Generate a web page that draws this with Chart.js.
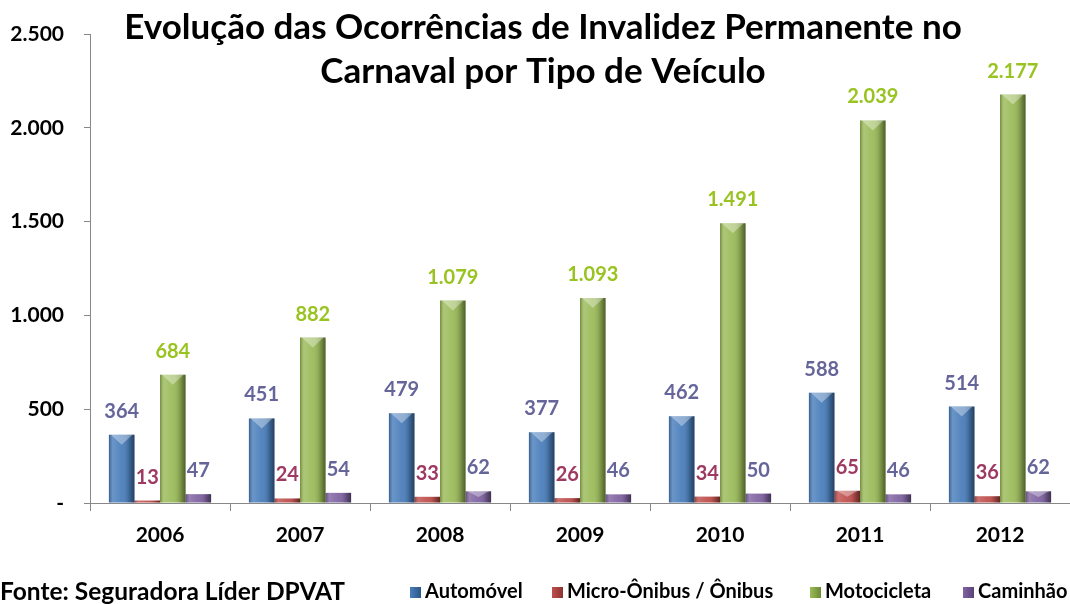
<!DOCTYPE html>
<html>
<head>
<meta charset="utf-8">
<script src="https://cdn.jsdelivr.net/npm/chart.js@4/dist/chart.umd.min.js"></script>
<style>
  html, body { margin: 0; padding: 0; background: #fff; }
  #wrap { position: relative; width: 1070px; height: 604px; }
</style>
</head>
<body>
<div id="wrap"><canvas id="mycanvas" width="1070" height="604"></canvas></div>
<script>
var years = ['2006', '2007', '2008', '2009', '2010', '2011', '2012'];
var automovel = [364, 451, 479, 377, 462, 588, 514];
var microOnibus = [13, 24, 33, 26, 34, 65, 36];
var motocicleta = [684, 882, 1079, 1093, 1491, 2039, 2177];
var caminhao = [47, 54, 62, 46, 50, 46, 62];
var yTicks = [0, 500, 1000, 1500, 2000, 2500];

var titleLines = ['Evolução das Ocorrências de Invalidez Permanente no', 'Carnaval por Tipo de Veículo'];
var sourceText = 'Fonte: Seguradora Líder DPVAT';
var FONT = 'Lato, "Open Sans", sans-serif';
var legendX = [410, 552, 810, 963];

function fmt(v) {
  if (v === 0) return '-';
  return String(v).replace(/\B(?=(\d{3})+(?!\d))/g, '.');
}

// shading + chevron on each bar, then the value labels
var barLook = {
  id: 'barLook',
  afterDatasetsDraw: function (chart) {
    var ctx = chart.ctx;
    chart.data.datasets.forEach(function (ds, i) {
      var meta = chart.getDatasetMeta(i);
      meta.data.forEach(function (bar, j) {
        var l = bar.x - bar.width / 2, r = bar.x + bar.width / 2;
        var top = bar.y, h = bar.base - bar.y;
        ctx.save();
        var g = ctx.createLinearGradient(l, 0, r, 0);
        g.addColorStop(0, 'rgba(0,0,0,0.25)');
        g.addColorStop(0.15, 'rgba(255,255,255,0.18)');
        g.addColorStop(0.5, 'rgba(255,255,255,0.05)');
        g.addColorStop(0.8, 'rgba(0,0,0,0.2)');
        g.addColorStop(1, 'rgba(0,0,0,0.5)');
        ctx.fillStyle = g;
        ctx.fillRect(l, top, r - l, h);
        if (h > 10) {
          ctx.beginPath();
          ctx.moveTo(l + 2, top);
          ctx.lineTo(r - 2, top);
          ctx.lineTo(bar.x, top + Math.min(10, h / 2));
          ctx.closePath();
          ctx.fillStyle = 'rgba(255,255,255,0.35)';
          ctx.fill();
        }
        ctx.font = 'bold 20px ' + FONT;
        ctx.fillStyle = ds.labelColor;
        ctx.textAlign = 'center';
        ctx.textBaseline = 'alphabetic';
        ctx.fillText(fmt(ds.data[j]), bar.x, top - 17);
        ctx.restore();
      });
    });
  },
  afterDraw: function (chart) {
    var ctx = chart.ctx;
    ctx.save();
    ctx.fillStyle = '#000';
    ctx.textAlign = 'center';
    ctx.textBaseline = 'middle';
    ctx.font = 'bold 35px ' + FONT;
    ctx.fillText(titleLines[0], 543, 28);
    ctx.fillText(titleLines[1], 543, 72);

    ctx.textAlign = 'left';
    ctx.font = 'bold 24.5px ' + FONT;
    ctx.fillText(sourceText, 0, 592);

    // legend
    ctx.font = 'bold 20px ' + FONT;
    chart.data.datasets.forEach(function (ds, i) {
      var x = legendX[i];
      var g = ctx.createLinearGradient(x, 0, x + 11, 0);
      g.addColorStop(0, ds.backgroundColor);
      g.addColorStop(1, ds.edgeColor);
      ctx.fillStyle = g;
      ctx.fillRect(x, 587, 11, 11);
      ctx.fillStyle = '#000';
      ctx.fillText(ds.label, x + 15, 592);
    });
    ctx.restore();
  }
};

var chartdata = {
  labels: years,
  datasets: [
    { label: 'Automóvel', data: automovel, backgroundColor: '#4a7ebb', edgeColor: '#2c5687', labelColor: '#65659a' },
    { label: 'Micro-Ônibus / Ônibus', data: microOnibus, backgroundColor: '#c0504d', edgeColor: '#8c3330', labelColor: '#9e3a62' },
    { label: 'Motocicleta', data: motocicleta, backgroundColor: '#9bbb59', edgeColor: '#6b8a32', labelColor: '#99c320' },
    { label: 'Caminhão', data: caminhao, backgroundColor: '#8064a2', edgeColor: '#5a4278', labelColor: '#65659a' }
  ]
};

var ctx = document.getElementById('mycanvas');
var barGraph = new Chart(ctx, {
  type: 'bar',
  data: chartdata,
  plugins: [barLook],
  options: {
    responsive: false,
    animation: false,
    layout: { padding: { top: 34, right: 0, bottom: 51, left: 0 } },
    plugins: { legend: { display: false }, tooltip: { enabled: false }, title: { display: false } },
    datasets: { bar: { categoryPercentage: 0.73, barPercentage: 1 } },
    scales: {
      x: {
        grid: { drawOnChartArea: false, drawTicks: true, tickLength: 8, color: '#888' },
        border: { display: true, color: '#888' },
        ticks: { color: '#000', font: { family: FONT, size: 21, weight: 'bold' }, padding: 12 },
        afterFit: function (s) { s.height = 50; }
      },
      y: {
        min: 0,
        max: 2500,
        afterBuildTicks: function (s) { s.ticks = yTicks.map(function (v) { return { value: v }; }); },
        grid: { drawOnChartArea: false, drawTicks: true, tickLength: 6, color: '#888' },
        border: { display: true, color: '#888' },
        ticks: {
          color: '#000',
          font: { family: FONT, size: 21, weight: 'bold' },
          padding: 20,
          callback: function (v) { return fmt(v); }
        },
        afterFit: function (s) { s.width = 90; }
      }
    }
  }
});
</script>
</body>
</html>
